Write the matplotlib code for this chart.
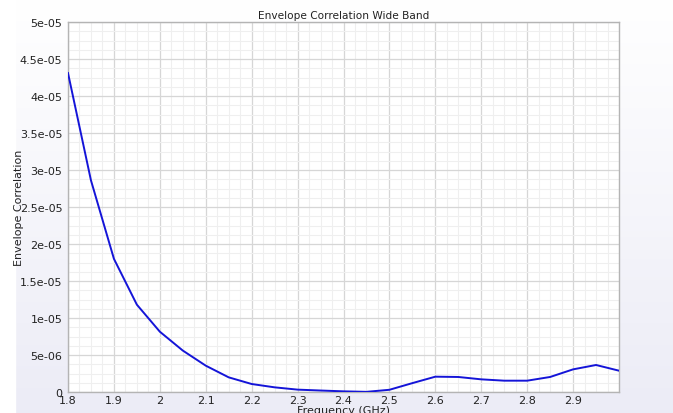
#!/usr/bin/env python3
import numpy as np
import matplotlib

matplotlib.use("Agg")
import matplotlib.pyplot as plt
from matplotlib.ticker import MultipleLocator

# frequency sweep (GHz) and envelope correlation coefficient
freq_ghz = [1.8, 1.85, 1.9, 1.95, 2.0, 2.05, 2.1, 2.15, 2.2, 2.25, 2.3, 2.35,
            2.4, 2.45, 2.5, 2.55, 2.6, 2.65, 2.7, 2.75, 2.8, 2.85, 2.9, 2.95, 3.0]
ecc = [4.31e-05, 2.86e-05, 1.80e-05, 1.18e-05, 8.15e-06, 5.6e-06, 3.56e-06,
       1.98e-06, 1.08e-06, 6.3e-07, 3.2e-07, 2.0e-07, 9e-08, 2e-08, 3.0e-07,
       1.2e-06, 2.07e-06, 2.03e-06, 1.71e-06, 1.53e-06, 1.53e-06, 2.03e-06,
       3.06e-06, 3.65e-06, 2.88e-06]

x_ticks = [1.8, 1.9, 2.0, 2.1, 2.2, 2.3, 2.4, 2.5, 2.6, 2.7, 2.8, 2.9]
x_tick_labels = ["1.8", "1.9", "2", "2.1", "2.2", "2.3", "2.4", "2.5", "2.6",
                 "2.7", "2.8", "2.9"]
y_ticks = [0, 5e-06, 1e-05, 1.5e-05, 2e-05, 2.5e-05, 3e-05, 3.5e-05, 4e-05,
           4.5e-05, 5e-05]
y_tick_labels = ["0", "5e-06", "1e-05", "1.5e-05", "2e-05", "2.5e-05", "3e-05",
                 "3.5e-05", "4e-05", "4.5e-05", "5e-05"]

fig = plt.figure(figsize=(6.73, 4.14), dpi=100)

# soft vertical gradient behind everything
bg = fig.add_axes([0, 0, 1, 1], zorder=-10)
grad = np.linspace(0, 1, 256).reshape(-1, 1)
top = np.array([1.0, 1.0, 1.0])
bot = np.array([0.925, 0.925, 0.965])
img = top + (bot - top) * grad[:, :, None]
bg.imshow(img, aspect="auto", extent=[0, 1, 0, 1], origin="upper")
bg.axvspan(0, 15 / 673, color="white")
bg.set_xlim(0, 1)
bg.set_ylim(0, 1)
bg.axis("off")

ax = fig.add_axes([68 / 673, 21 / 414, 551 / 673, 370 / 414])
ax.set_facecolor("white")
ax.plot(freq_ghz, ecc, color="#1414d8", lw=1.4, zorder=3)

ax.set_xlim(1.8, 3.0)
ax.set_ylim(0, 5e-05)
ax.set_xticks(x_ticks)
ax.set_xticklabels(x_tick_labels)
ax.set_yticks(y_ticks)
ax.set_yticklabels(y_tick_labels)
ax.xaxis.set_minor_locator(MultipleLocator(0.025))
ax.yaxis.set_minor_locator(MultipleLocator(1.25e-06))

ax.grid(which="major", color="#d6d6d6", lw=0.9)
ax.grid(which="minor", color="#efefef", lw=0.8)
ax.set_axisbelow(True)

for s in ax.spines.values():
    s.set_color("#b4b4b4")
    s.set_linewidth(1.0)

ax.tick_params(which="both", length=0, labelsize=8, colors="#222222")
ax.tick_params(axis="x", pad=2)
ax.tick_params(axis="y", pad=4)

ax.set_title("Envelope Correlation Wide Band", fontsize=7.6, pad=3, color="#222222")
ax.set_xlabel("Frequency (GHz)", fontsize=8, labelpad=0, color="#222222")
ax.set_ylabel("Envelope Correlation", fontsize=8, color="#222222")
# label sits over the tick-label column, as in the original tool output
ax.yaxis.set_label_coords(-44 / 551, 0.5)

fig.savefig("out.png", dpi=100)
